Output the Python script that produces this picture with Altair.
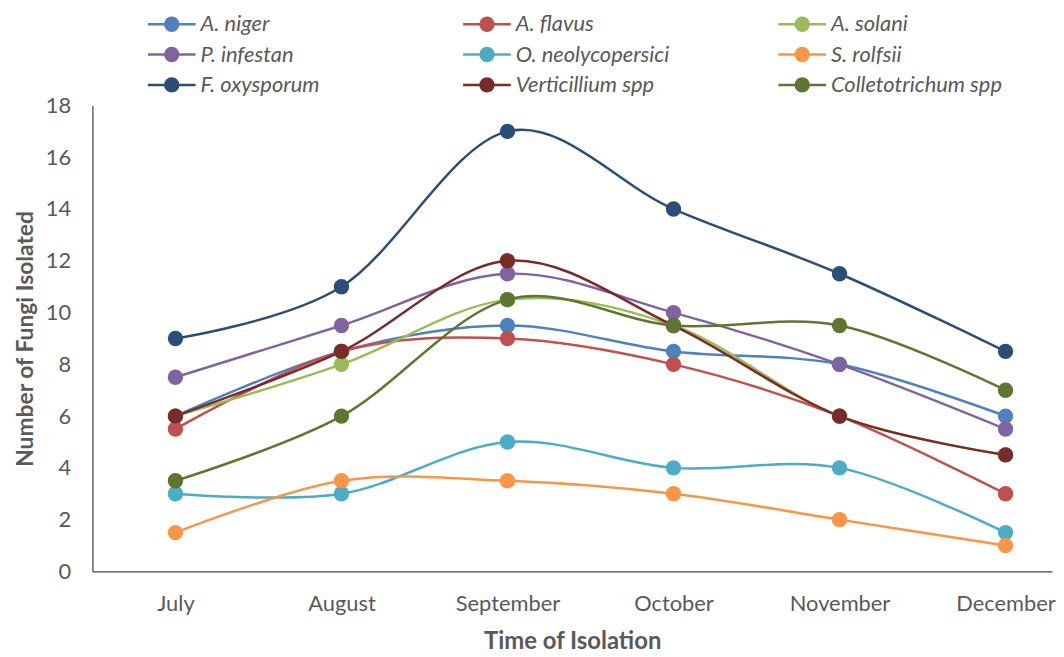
import json
import altair as alt
import pandas as pd

months = ["July", "August", "September", "October", "November", "December"]
series = ["A. niger", "A. flavus", "A. solani", "P. infestan", "O. neolycopersici",
          "S. rolfsii", "F. oxysporum", "Verticillium spp", "Colletotrichum spp"]
colors = ["#4F81BD", "#C0504D", "#9BBB59", "#8064A2", "#4BACC6",
          "#F79646", "#2C4D75", "#772C2A", "#5F7530"]

a_niger = [6, 8.5, 9.5, 8.5, 8, 6]
a_flavus = [5.5, 8.5, 9, 8, 6, 3]
a_solani = [6, 8, 10.5, 9.5, 6, 4.5]
p_infestan = [7.5, 9.5, 11.5, 10, 8, 5.5]
o_neolycopersici = [3, 3, 5, 4, 4, 1.5]
s_rolfsii = [1.5, 3.5, 3.5, 3, 2, 1]
f_oxysporum = [9, 11, 17, 14, 11.5, 8.5]
verticillium = [6, 8.5, 12, 9.5, 6, 4.5]
colletotrichum = [3.5, 6, 10.5, 9.5, 9.5, 7]

values = [a_niger, a_flavus, a_solani, p_infestan, o_neolycopersici,
          s_rolfsii, f_oxysporum, verticillium, colletotrichum]

rows = []
for s_i, (name, vals) in enumerate(zip(series, values)):
    for m_i, (m, v) in enumerate(zip(months, vals)):
        rows.append({"series": name, "order": s_i, "idx": m_i, "month": m, "value": v})
df = pd.DataFrame(rows)

# legend table: 3 columns, row-major order
leg_df = pd.DataFrame({
    "series": series,
    "col": [i % 3 for i in range(len(series))],
    "row": [i // 3 for i in range(len(series))],
})

FONT = "Lato"
GREY = "#595959"
label_expr = json.dumps(months) + "[datum.value]"
color_scale = alt.Scale(domain=series, range=colors)

# ---------------- legend panel ----------------
lx = alt.X("col:Q", scale=alt.Scale(domain=[-0.2516, 2.7925], nice=False, zero=False), axis=None)
ly = alt.Y("row:Q", scale=alt.Scale(domain=[-0.3, 2.45], nice=False, zero=False, reverse=True), axis=None)
lcol = alt.Color("series:N", scale=color_scale, legend=None)

leg_base = alt.Chart(leg_df)
leg_line = leg_base.mark_tick(orient="horizontal", size=48, thickness=2.5, opacity=1).encode(
    x=lx, y=ly, color=lcol)
leg_dot = leg_base.mark_point(filled=True, size=240, opacity=1).encode(
    x=lx, y=ly, color=lcol)
leg_text = leg_base.mark_text(align="left", baseline="middle", dx=29, font=FONT,
                              fontStyle="italic", fontSize=22, color=GREY).encode(
    x=lx, y=ly, text="series:N")
legend_panel = alt.layer(leg_line, leg_dot, leg_text).properties(width=966, height=84)

# ---------------- main plot ----------------
x_enc = alt.X(
    "idx:Q",
    scale=alt.Scale(domain=[-0.5, 5.28], nice=False, zero=False),
    axis=alt.Axis(values=list(range(len(months))), labelExpr=label_expr,
                  title="Time of Isolation", grid=False, ticks=False,
                  labelPadding=22, titlePadding=16, labelFontSize=22,
                  titleFontSize=24),
)
y_enc = alt.Y(
    "value:Q",
    scale=alt.Scale(domain=[0, 18], nice=False),
    axis=alt.Axis(values=list(range(0, 19, 2)), grid=False, ticks=False,
                  title="Number of Fungi Isolated", labelPadding=22,
                  titlePadding=8, labelFontSize=22, titleFontSize=23),
)

base = alt.Chart(df)
lines = base.mark_line(interpolate="cardinal", strokeWidth=2.5).encode(
    x=x_enc, y=y_enc,
    color=alt.Color("series:N", scale=color_scale, legend=None),
    order=alt.Order("idx:Q"),
)
points = base.mark_point(filled=True, size=240, opacity=1).encode(
    x=x_enc, y=y_enc,
    color=alt.Color("series:N", scale=color_scale, legend=None),
)
main = alt.layer(lines, points).properties(width=966, height=469)

chart = alt.vconcat(legend_panel, main, spacing=7, bounds="flush").properties(
    padding={"left": 6, "top": 3, "right": 0, "bottom": 0},
    background="white",
).configure_view(stroke=None).configure_axis(
    labelFont=FONT, titleFont=FONT, labelColor=GREY, titleColor=GREY,
    domainColor="#404040", domainWidth=1.2, titleFontWeight="bold",
)

chart.save("out.html", embed_options={"renderer": "svg", "actions": False})
